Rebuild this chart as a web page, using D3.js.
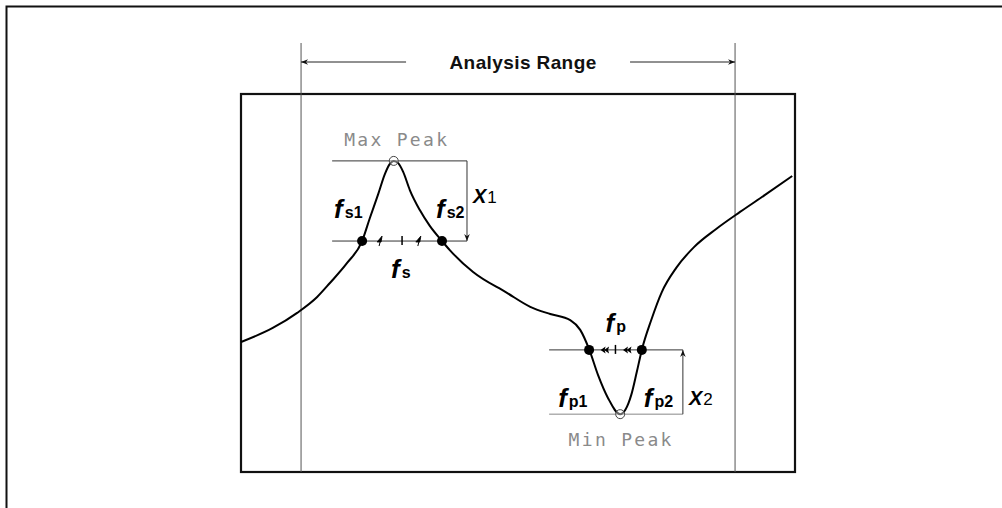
<!DOCTYPE html>
<html>
<head>
<meta charset="utf-8">
<script src="https://cdn.jsdelivr.net/npm/d3@7"></script>
<style>
    body { margin: 0; background: #fff; }
    svg { display: block; }
</style>
</head>
<body>
<svg id="chart"></svg>
<script>
// response curve (arbitrary units, 0-100 on both axes)
const freq  = [0.2, 5.9, 10.3, 13.9, 16.2, 19.3, 22.0, 23.4, 24.9, 26.1, 27.0, 27.7, 28.5, 29.4, 30.6,
               32.4, 34.2, 36.4, 37.8, 42.0, 48.1, 52.3, 55.9, 59.5, 61.3, 62.9, 64.5, 66.3, 68.5,
               70.5, 71.5, 72.4, 74.1, 76.0, 78.6, 81.8, 85.8, 90.1, 94.6, 99.5];
const level = [34.4, 38.1, 42.1, 46.3, 50.0, 55.3, 61.1, 67.2, 73.5, 78.8, 81.5, 82.3, 81.7, 79.4, 74.6,
               69.3, 65.1, 61.1, 58.7, 52.9, 47.4, 43.7, 41.8, 40.2, 37.6, 32.5, 25.7, 19.6, 15.3,
               20.4, 26.5, 32.3, 40.2, 47.6, 54.0, 59.5, 64.3, 68.8, 73.3, 78.3];

// analysis range limits
const rangeLimits = [11.0, 89.2];

// peaks and crossing points
const maxPeak = { f: 27.7, level: 82.3 };
const minPeak = { f: 68.5, level: 15.3 };
const sPoints = [{ f: 22.0, level: 61.1 }, { f: 36.4, level: 61.1 }];
const pPoints = [{ f: 62.9, level: 32.3 }, { f: 72.4, level: 32.3 }];

// reference line extents
const sLineExtent = [16.6, 40.9];
const pLineExtent = [55.7, 79.8];

const W = 1002, H = 508;
const box = { left: 240, right: 795, top: 94, bottom: 472 };

const svg = d3.select("#chart")
    .attr("width", W)
    .attr("height", H);

const x = d3.scaleLinear().domain([0, 100]).range([box.left, box.right]);
const y = d3.scaleLinear().domain([0, 100]).range([box.bottom, box.top]);

// arrowheads
const defs = svg.append("defs");
defs.append("marker")
    .attr("id", "arrow")
    .attr("viewBox", "0 0 10 10")
    .attr("refX", 10).attr("refY", 5)
    .attr("markerWidth", 9).attr("markerHeight", 7)
    .attr("markerUnits", "userSpaceOnUse")
    .attr("orient", "auto")
    .append("path")
    .attr("d", "M0,1 L10,5 L0,9 L3,5 Z")
    .attr("fill", "#111");

// outer frame (top and left edges only)
svg.append("path")
    .attr("d", `M6.5,${H} L6.5,6.5 L${W},6.5`)
    .attr("fill", "none")
    .attr("stroke", "#111")
    .attr("stroke-width", 2);

// plot box
svg.append("rect")
    .attr("x", box.left + 1)
    .attr("y", box.top)
    .attr("width", box.right - box.left - 1)
    .attr("height", box.bottom - box.top)
    .attr("fill", "none")
    .attr("stroke", "#111")
    .attr("stroke-width", 2.2);

// analysis range lines
const rangeTop = box.top - 51, arrowY = box.top - 32;
svg.selectAll(".range-line")
    .data(rangeLimits)
    .join("line")
    .attr("class", "range-line")
    .attr("x1", d => x(d)).attr("x2", d => x(d))
    .attr("y1", rangeTop).attr("y2", box.bottom)
    .attr("stroke", "#555")
    .attr("stroke-width", 1);

const midRange = (x(rangeLimits[0]) + x(rangeLimits[1])) / 2;
svg.append("line")
    .attr("x1", midRange - 112).attr("x2", x(rangeLimits[0]))
    .attr("y1", arrowY).attr("y2", arrowY)
    .attr("stroke", "#222").attr("stroke-width", 1)
    .attr("marker-end", "url(#arrow)");
svg.append("line")
    .attr("x1", midRange + 112).attr("x2", x(rangeLimits[1]))
    .attr("y1", arrowY).attr("y2", arrowY)
    .attr("stroke", "#222").attr("stroke-width", 1)
    .attr("marker-end", "url(#arrow)");
svg.append("text")
    .attr("x", midRange + 5)
    .attr("y", arrowY + 7)
    .attr("text-anchor", "middle")
    .style("font-family", "'Liberation Sans', Arial, sans-serif")
    .style("font-size", "19px")
    .style("font-weight", "bold")
    .style("letter-spacing", "0.4px")
    .style("fill", "#111")
    .text("Analysis Range");

// reference lines around the max peak
const refColor = "#333";
[maxPeak.level, sPoints[0].level].forEach(lv => {
    svg.append("line")
        .attr("x1", x(sLineExtent[0])).attr("x2", x(sLineExtent[1]))
        .attr("y1", y(lv)).attr("y2", y(lv))
        .attr("stroke", refColor).attr("stroke-width", 1);
});
svg.append("line")
    .attr("x1", x(sLineExtent[1])).attr("x2", x(sLineExtent[1]))
    .attr("y1", y(maxPeak.level)).attr("y2", y(sPoints[0].level))
    .attr("stroke", refColor).attr("stroke-width", 1)
    .attr("marker-end", "url(#arrow)");

// reference lines around the min peak
[minPeak.level, pPoints[0].level].forEach(lv => {
    svg.append("line")
        .attr("x1", x(pLineExtent[0])).attr("x2", x(pLineExtent[1]))
        .attr("y1", y(lv)).attr("y2", y(lv))
        .attr("stroke", lv === minPeak.level ? "#888" : refColor).attr("stroke-width", 1);
});
svg.append("line")
    .attr("x1", x(pLineExtent[1])).attr("x2", x(pLineExtent[1]))
    .attr("y1", y(minPeak.level)).attr("y2", y(pPoints[0].level))
    .attr("stroke", refColor).attr("stroke-width", 1)
    .attr("marker-end", "url(#arrow)");

// response curve
const curve = d3.line()
    .x((d, i) => x(freq[i]))
    .y(d => y(d))
    .curve(d3.curveMonotoneX);

svg.append("path")
    .datum(level)
    .attr("d", curve)
    .attr("fill", "none")
    .attr("stroke", "#000")
    .attr("stroke-width", 2);

// center ticks and small arrow marks
function centerMarks(points, kind) {
    const cx = (x(points[0].f) + x(points[1].f)) / 2;
    const cy = y(points[0].level);
    svg.append("line")
        .attr("x1", cx).attr("x2", cx)
        .attr("y1", cy - 5).attr("y2", cy + 4)
        .attr("stroke", "#000").attr("stroke-width", 1.5);
    const half = (x(points[1].f) - x(points[0].f)) / 2;
    if (kind === "s") {
        [cx - half * 0.55, cx + half * 0.42].forEach(ax => {
            svg.append("path")
                .attr("d", `M${ax - 3},${cy + 1} L${ax + 2},${cy - 5} L${ax + 1},${cy + 1} Z`)
                .attr("fill", "#000").attr("stroke", "#000").attr("stroke-width", 0.8);
            svg.append("line")
                .attr("x1", ax - 1).attr("x2", ax + 1)
                .attr("y1", cy + 5).attr("y2", cy - 3)
                .attr("stroke", "#000").attr("stroke-width", 1);
        });
    } else {
        [cx - half * 0.45, cx + half * 0.4].forEach(ax => {
            [0, 3.5].forEach(off => {
                svg.append("path")
                    .attr("d", `M${ax + off - 3},${cy} L${ax + off + 2},${cy - 3.5} L${ax + off + 1},${cy} L${ax + off + 2},${cy + 3.5} Z`)
                    .attr("fill", "#000");
            });
        });
    }
}
centerMarks(sPoints, "s");
centerMarks(pPoints, "p");

// crossing points
svg.selectAll(".cross")
    .data(sPoints.concat(pPoints))
    .join("circle")
    .attr("class", "cross")
    .attr("cx", d => x(d.f))
    .attr("cy", d => y(d.level))
    .attr("r", 5)
    .attr("fill", "#000");

// peak markers
svg.selectAll(".peak")
    .data([maxPeak, minPeak])
    .join("circle")
    .attr("class", "peak")
    .attr("cx", d => x(d.f))
    .attr("cy", d => y(d.level))
    .attr("r", 4.5)
    .attr("fill", "#fff")
    .attr("fill-opacity", 0.4)
    .attr("stroke", "#444")
    .attr("stroke-width", 1);

// peak captions
const mono = "'DejaVu Sans Mono', monospace";
svg.append("text")
    .attr("x", x(maxPeak.f) + 3)
    .attr("y", y(maxPeak.level) - 15)
    .attr("text-anchor", "middle")
    .style("font-family", mono)
    .style("font-size", "18px")
    .style("letter-spacing", "2.3px")
    .style("fill", "#8a8a8a")
    .text("Max Peak");
svg.append("text")
    .attr("x", x(minPeak.f) + 1)
    .attr("y", y(minPeak.level) + 32)
    .attr("text-anchor", "middle")
    .style("font-family", mono)
    .style("font-size", "18px")
    .style("letter-spacing", "2.3px")
    .style("fill", "#8a8a8a")
    .text("Min Peak");

// f-labels with subscripts
const sans = "'Liberation Sans', Arial, sans-serif";
function fLabel(px, py, sub) {
    const t = svg.append("text")
        .attr("x", px).attr("y", py)
        .style("font-family", sans)
        .style("fill", "#000");
    t.append("tspan")
        .style("font-size", "26px")
        .style("font-weight", "bold")
        .style("font-style", "italic")
        .text("f");
    t.append("tspan")
        .attr("dx", 2)
        .style("font-size", "16px")
        .style("font-weight", "bold")
        .text(sub);
}
function xLabel(px, py, sub) {
    const t = svg.append("text")
        .attr("x", px).attr("y", py)
        .style("font-family", sans)
        .style("fill", "#000");
    t.append("tspan")
        .style("font-size", "20px")
        .style("font-weight", "bold")
        .style("font-style", "italic")
        .text("X");
    t.append("tspan")
        .attr("dx", 1)
        .style("font-size", "17px")
        .text(sub);
}

fLabel(x(sPoints[0].f) - 28, y(sPoints[0].level) - 23, "s1");
fLabel(x(sPoints[1].f) - 6, y(sPoints[1].level) - 23, "s2");
fLabel((x(sPoints[0].f) + x(sPoints[1].f)) / 2 - 11, y(sPoints[0].level) + 37, "s");
xLabel(x(sLineExtent[1]) + 6, y(maxPeak.level) + 42, "1");

fLabel((x(pPoints[0].f) + x(pPoints[1].f)) / 2 - 10, y(pPoints[0].level) - 18, "p");
fLabel(x(pLineExtent[0]) + 9, y(pPoints[0].level) + 57, "p1");
fLabel(x(pPoints[1].f) + 2, y(pPoints[1].level) + 57, "p2");
xLabel(x(pLineExtent[1]) + 6, y(pPoints[0].level) + 55, "2");
</script>
</body>
</html>
